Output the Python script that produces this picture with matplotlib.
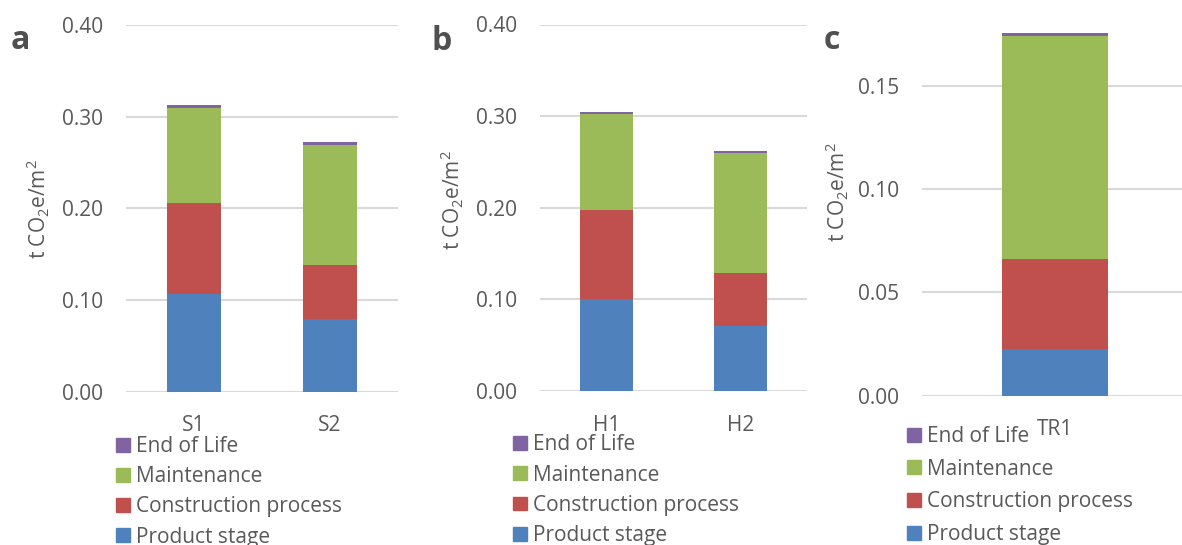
import matplotlib
matplotlib.use('Agg')
import matplotlib.pyplot as plt
from matplotlib.patches import Patch
import numpy as np

plt.rcParams['font.family'] = ['Open Sans', 'DejaVu Sans']
plt.rcParams['mathtext.default'] = 'regular'

# data (t CO2e/m2)
stages = ['Product stage', 'Construction process', 'Maintenance', 'End of Life']
colors = ['#4F81BD', '#C0504D', '#9BBB59', '#8064A2']

cats_a = ['S1', 'S2']
product_a = [0.107, 0.079]
construction_a = [0.099, 0.059]
maintenance_a = [0.104, 0.131]
eol_a = [0.003, 0.003]

cats_b = ['H1', 'H2']
product_b = [0.100, 0.071]
construction_b = [0.097, 0.058]
maintenance_b = [0.105, 0.131]
eol_b = [0.002, 0.002]

cats_c = ['TR1']
product_c = [0.0228]
construction_c = [0.0433]
maintenance_c = [0.1079]
eol_c = [0.0013]

W, H = 1182, 545
TXT = '#595959'
GRID = '#D9D9D9'
FS = 15


def px(x, y):
    return x / W, 1 - y / H


def panel(fig, rect, cats, series, ymax, step, letter, letter_xy, ylab_xy, leg_xy, leg_space):
    x0, y0, x1, y1 = rect
    ax = fig.add_axes([x0 / W, 1 - y1 / H, (x1 - x0) / W, (y1 - y0) / H])
    x = np.arange(len(cats))
    bottom = np.zeros(len(cats))
    for vals, c, lab in zip(series, colors, stages):
        ax.bar(x, vals, 0.4, bottom=bottom, color=c, label=lab, zorder=3)
        bottom += np.array(vals)
    ax.set_xlim(-0.5, len(cats) - 0.5)
    ax.set_ylim(0, ymax)
    ax.set_yticks(np.arange(0, ymax + 1e-9, step))
    ax.yaxis.set_major_formatter(matplotlib.ticker.FormatStrFormatter('%.2f'))
    ax.set_xticks(x)
    ax.set_xticklabels(cats)
    ax.tick_params(length=0, labelsize=FS, colors=TXT)
    ax.tick_params(axis='y', pad=16.5)
    ax.tick_params(axis='x', pad=17)
    for s in ax.spines.values():
        s.set_visible(False)
    ax.grid(axis='y', color=GRID, linewidth=1.5, zorder=0)
    ax.set_axisbelow(True)

    lx, ly = px(*letter_xy)
    fig.text(lx, ly, letter, fontsize=23, fontweight='bold', color='#505050', va='baseline')
    yx, yy = px(*ylab_xy)
    fig.text(yx, yy, r't CO$_{2}$e/m$^{2}$', rotation=90, ha='center', va='center',
             fontsize=FS, color=TXT)

    handles = [Patch(color=c) for c in colors][::-1]
    gx, gy = px(*leg_xy)
    ax.legend(handles, stages[::-1], loc='upper left', bbox_to_anchor=(gx, gy),
              bbox_transform=fig.transFigure, frameon=False, fontsize=FS,
              labelcolor=TXT, borderpad=0, borderaxespad=0, handlelength=0.65,
              handleheight=0.65, handletextpad=0.33, labelspacing=leg_space)
    return ax


def main():
    fig = plt.figure(figsize=(W / 100, H / 100), dpi=100)

    panel(fig, (126.2, 25, 397.5, 391.7), cats_a,
          [product_a, construction_a, maintenance_a, eol_a], 0.40, 0.10,
          'a', (11, 49), (38, 209), (116, 436), 0.44)
    panel(fig, (539.9, 24.5, 807.1, 391), cats_b,
          [product_b, construction_b, maintenance_b, eol_b], 0.40, 0.10,
          'b', (432, 50), (452, 200), (513, 434.5), 0.44)
    panel(fig, (922.3, 23.6, 1187.5, 395.7), cats_c,
          [product_c, construction_c, maintenance_c, eol_c], 0.18, 0.05,
          'c', (824, 49), (837, 192), (907, 426), 0.56)

    fig.savefig('out.png', dpi=100)


if __name__ == "__main__":
    main()
